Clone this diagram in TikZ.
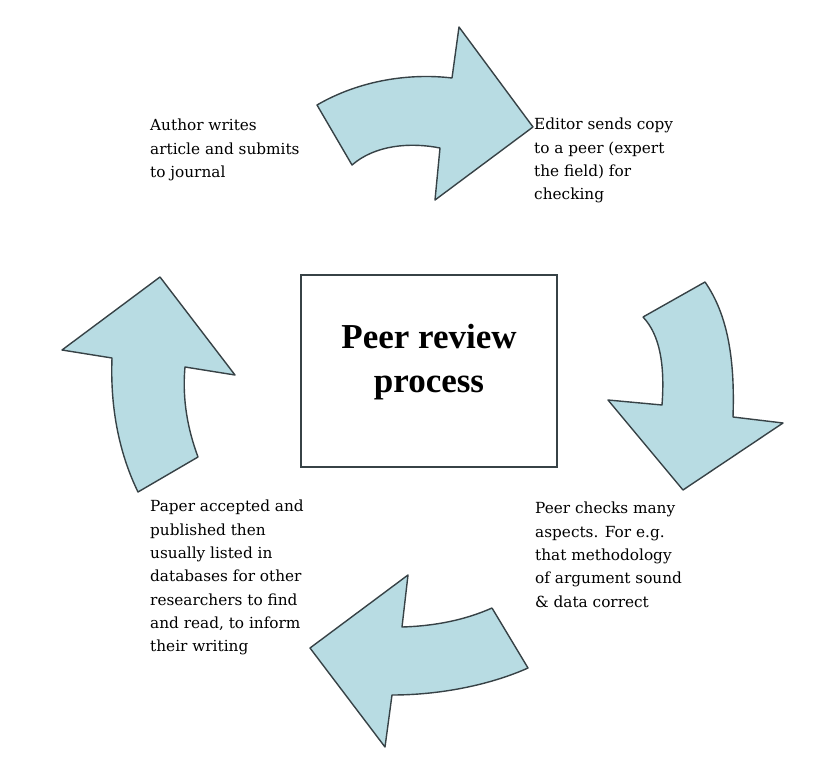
\documentclass[tikz,border=0pt]{standalone}
\usepackage{fontspec}
\setmainfont{DejaVu Serif}
\newfontfamily\titlefont{Liberation Serif}
\usepackage{tikz}
\usetikzlibrary{positioning}
\definecolor{arrowfill}{RGB}{184,220,227}
\definecolor{edgegray}{RGB}{55,66,70}

\begin{document}
\begin{tikzpicture}[x=1pt,y=-1pt,
  cycle arrow/.style={fill=arrowfill,draw=edgegray,line width=1.4pt,line join=round},
  step text/.style={anchor=north west,inner sep=0pt,align=left,
    font=\fontsize{15.3}{23.3}\selectfont},
  title box/.style={draw=edgegray,line width=1.4pt,minimum width=256pt,minimum height=192pt},
  title text/.style={align=center,font=\titlefont\bfseries\fontsize{35}{44}\selectfont}]

  \useasboundingbox (0,0) rectangle (833,784);

  \node[title box] (box) at (429,371) {};
  \node[title text] (title) at ([yshift=9pt]box.center) {Peer review\\process};

  % the four curved arrows
  \draw[cycle arrow] (317,105) .. controls (360,80) and (410,73) .. (452,78)
    -- (459,27) -- (533,127) -- (435,200) -- (440,148)
    .. controls (410,142) and (375,145) .. (352,165) -- cycle;
  \draw[cycle arrow] (643,317) -- (705,282) .. controls (728,315) and (735,360) .. (733,417)
    -- (783,423) -- (683,490) -- (608,400) -- (662,405)
    .. controls (665,365) and (660,335) .. (643,317);
  \draw[cycle arrow] (492,608) -- (528,668) .. controls (490,685) and (440,695) .. (392,695)
    -- (385,747) -- (310,648) -- (408,575) -- (402,627)
    .. controls (435,626) and (465,620) .. (492,608);
  \draw[cycle arrow] (138,492) .. controls (120,455) and (110,410) .. (112,358)
    -- (62,350) -- (160,277) -- (235,375) -- (185,367)
    .. controls (182,400) and (188,430) .. (198,457) -- cycle;

  \node[step text] (author) at (150,119) {Author writes\\article and submits\\to journal};
  \node[step text] (editor) at (534,118) {Editor sends copy\\to a peer (expert\\the field) for\\checking};
  \node[step text] (peer) at (535,502) {Peer checks many\\aspects. For e.g.\\that methodology\\of argument sound\\\& data correct};
  \node[step text] (paper) at (150,500) {Paper accepted and\\published then\\usually listed in\\databases for other\\researchers to find\\and read, to inform\\their writing};
\end{tikzpicture}
\end{document}
